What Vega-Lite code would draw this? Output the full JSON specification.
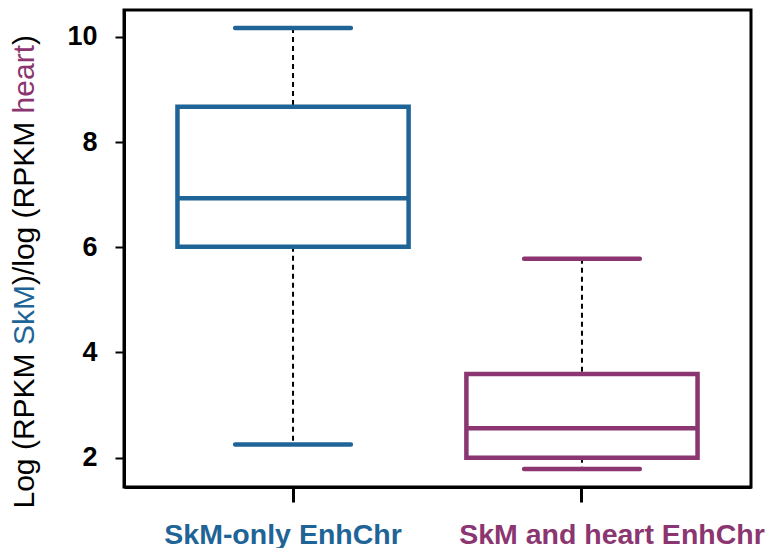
{
  "$schema": "https://vega.github.io/schema/vega-lite/v6.json",
  "width": 627,
  "height": 477,
  "autosize": {"type": "none"},
  "padding": {"left": 124, "top": 10, "right": 19, "bottom": 61},
  "background": "white",
  "config": {
    "view": {"stroke": "black", "strokeWidth": 3},
    "axis": {"labelFont": "Liberation Sans", "titleFont": "Liberation Sans", "grid": false}
  },
  "data": {
    "values": [
      {"group": "SkM-only EnhChr", "min": 2.25, "q1": 6.01, "median": 6.93, "q3": 8.67, "max": 10.17},
      {"group": "SkM and heart EnhChr", "min": 1.785, "q1": 2.0, "median": 2.56, "q3": 3.59, "max": 5.78}
    ]
  },
  "resolve": {"axis": {"y": "independent"}},
  "encoding": {
    "x": {
      "field": "group",
      "type": "nominal",
      "sort": null,
      "scale": {"type": "band", "paddingInner": 0.2, "paddingOuter": 0.185},
      "axis": {
        "title": null,
        "labelAngle": 0,
        "labelLimit": 0,
        "labelFontSize": 28.5,
        "labelFontWeight": "bold",
        "labelColor": {"condition": {"test": "datum.value == 'SkM-only EnhChr'", "value": "#1f6496"}, "value": "#8b3571"},
        "labelOffset": {"condition": {"test": "datum.value == 'SkM-only EnhChr'", "value": -10}, "value": 30},
        "tickSize": 15,
        "tickWidth": 3,
        "tickColor": "black",
        "domainColor": "black",
        "domainWidth": 3,
        "labelPadding": 18
      }
    }
  },
  "layer": [
    {
      "mark": {"type": "rule", "strokeDash": [5, 4], "color": "black", "strokeWidth": 2},
      "encoding": {
        "y": {
          "field": "max", "type": "quantitative",
          "scale": {"domain": [1.443, 10.51], "nice": false, "zero": false},
          "axis": {
            "orient": "left", "values": [2, 4, 6, 8, 10],
            "labelFontSize": 27, "labelFontWeight": "bold", "labelColor": "black",
            "tickSize": 9, "tickWidth": 2, "tickColor": "black", "labelPadding": 18,
            "domainColor": "black", "domainWidth": 3,
            "title": "Log (RPKM", "titleColor": "black", "titleAngle": -90, "titleX": -91, "titleY": 498,
            "titleAlign": "left", "titleBaseline": "alphabetic", "titleFontSize": 30, "titleFontWeight": "normal"
          }
        },
        "y2": {"field": "q3"}
      }
    },
    {
      "mark": {"type": "rule", "strokeDash": [5, 4], "color": "black", "strokeWidth": 2},
      "encoding": {
        "y": {
          "field": "q1", "type": "quantitative",
          "scale": {"domain": [1.443, 10.51], "nice": false, "zero": false},
          "axis": {
            "orient": "left", "labels": false, "ticks": false, "domain": false, "grid": false,
            "title": "SkM", "titleColor": "#1f6496", "titleAngle": -90, "titleX": -91, "titleY": 334.6,
            "titleAlign": "left", "titleBaseline": "alphabetic", "titleFontSize": 30, "titleFontWeight": "normal"
          }
        },
        "y2": {"field": "min"}
      }
    },
    {
      "mark": {"type": "tick", "size": 120, "thickness": 4.5, "cornerRadius": 2, "opacity": 1},
      "encoding": {
        "y": {
          "field": "max", "type": "quantitative",
          "scale": {"domain": [1.443, 10.51], "nice": false, "zero": false},
          "axis": {
            "orient": "left", "labels": false, "ticks": false, "domain": false, "grid": false,
            "title": ")/log (RPKM", "titleColor": "black", "titleAngle": -90, "titleX": -91, "titleY": 274.6,
            "titleAlign": "left", "titleBaseline": "alphabetic", "titleFontSize": 30, "titleFontWeight": "normal"
          }
        },
        "color": {"field": "group", "type": "nominal", "scale": {"domain": ["SkM-only EnhChr", "SkM and heart EnhChr"], "range": ["#1f6496", "#8b3571"]}, "legend": null}
      }
    },
    {
      "mark": {"type": "tick", "size": 120, "thickness": 4.5, "cornerRadius": 2, "opacity": 1},
      "encoding": {
        "y": {
          "field": "min", "type": "quantitative",
          "scale": {"domain": [1.443, 10.51], "nice": false, "zero": false},
          "axis": {
            "orient": "left", "labels": false, "ticks": false, "domain": false, "grid": false,
            "title": "heart", "titleColor": "#8b3571", "titleAngle": -90, "titleX": -91, "titleY": 102.9,
            "titleAlign": "left", "titleBaseline": "alphabetic", "titleFontSize": 30, "titleFontWeight": "normal"
          }
        },
        "color": {"field": "group", "type": "nominal", "scale": {"domain": ["SkM-only EnhChr", "SkM and heart EnhChr"], "range": ["#1f6496", "#8b3571"]}, "legend": null}
      }
    },
    {
      "mark": {"type": "bar", "fill": "white", "strokeWidth": 4.5},
      "encoding": {
        "y": {
          "field": "q1", "type": "quantitative",
          "scale": {"domain": [1.443, 10.51], "nice": false, "zero": false},
          "axis": {
            "orient": "left", "labels": false, "ticks": false, "domain": false, "grid": false,
            "title": ")", "titleColor": "black", "titleAngle": -90, "titleX": -91, "titleY": 34.5,
            "titleAlign": "left", "titleBaseline": "alphabetic", "titleFontSize": 30, "titleFontWeight": "normal"
          }
        },
        "y2": {"field": "q3"},
        "stroke": {"field": "group", "type": "nominal", "scale": {"domain": ["SkM-only EnhChr", "SkM and heart EnhChr"], "range": ["#1f6496", "#8b3571"]}, "legend": null}
      }
    },
    {
      "mark": {"type": "tick", "size": 232, "thickness": 4.5, "opacity": 1},
      "encoding": {
        "y": {
          "field": "median", "type": "quantitative",
          "scale": {"domain": [1.443, 10.51], "nice": false, "zero": false},
          "axis": null
        },
        "color": {"field": "group", "type": "nominal", "scale": {"domain": ["SkM-only EnhChr", "SkM and heart EnhChr"], "range": ["#1f6496", "#8b3571"]}, "legend": null}
      }
    }
  ]
}
